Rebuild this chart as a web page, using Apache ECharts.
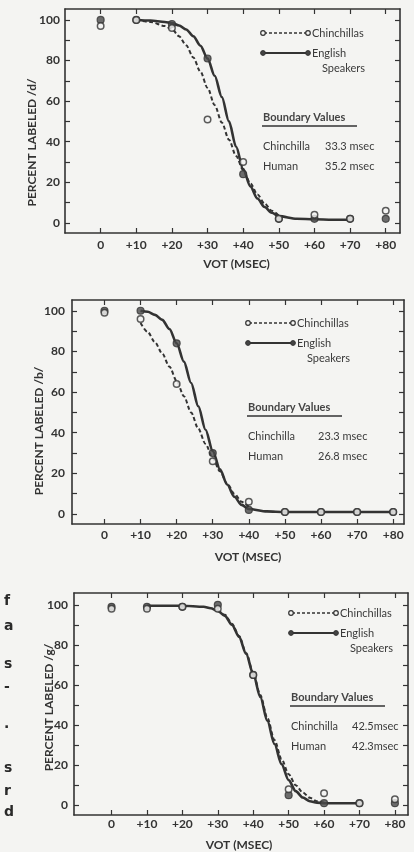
<!DOCTYPE html>
<html><head><meta charset="utf-8">
<script src="https://cdn.jsdelivr.net/npm/echarts@6/dist/echarts.min.js"></script>
<style>html,body{margin:0;padding:0;background:#f4f4f2}#c{width:414px;height:852px}</style>
</head><body><div id="c"></div>
<script>
// ---------- data ----------
const vot = [0, 10, 20, 30, 40, 50, 60, 70, 80];
const xTickValues = [0, 10, 20, 30, 40, 50, 60, 70, 80];
const xTickLabels = ['0', '+10', '+20', '+30', '+40', '+50', '+60', '+70', '+80'];
const yLabelValues = [0, 20, 40, 60, 80, 100];
const yTickValues = [0, 10, 20, 30, 40, 50, 60, 70, 80, 90, 100];
const consonants = ['/d/', '/b/', '/g/'];
const seriesNames = ['Chinchillas', 'English Speakers'];
const boundaryChin = ['33.3 msec', '23.3 msec', '42.5msec'];
const boundaryHum = ['35.2 msec', '26.8 msec', '42.3msec'];

// panel 1 /d/
const dChin = [97, 100, 96, 51, 30, 2, 4, 2, 6];
const dHum = [100, 100, 98, 81, 24, 2, 2, 2, 2];
const dChinCurveX = [10, 14, 18, 20, 22, 24, 26, 28, 30, 32, 34, 36, 38, 40, 42, 44, 46, 48, 50];
const dChinCurveY = [100, 99, 97, 95.5, 92, 87.5, 81.5, 74.5, 66.5, 58, 49.5, 41, 33, 26, 19.5, 14, 9.5, 6, 3.5];
const dHumCurveX = [10, 14, 18, 20, 22, 24, 26, 28, 30, 32, 34, 36, 38, 40, 42, 44, 46, 48, 50, 55, 60, 65, 70];
const dHumCurveY = [100, 99.7, 99, 98.5, 97.3, 95.3, 92, 87.3, 81, 72.5, 62, 50, 37.5, 26.5, 18, 12, 7.8, 5, 3.3, 2, 1.8, 1.5, 1.5];

// panel 2 /b/
const bChin = [99, 96, 64, 26, 6, 1, 1, 1, 1];
const bHum = [100, 100, 84, 30, 2, 1, 1, 1, 1];
const bChinCurveX = [10, 12, 14, 16, 18, 20, 22, 24, 26, 28, 30, 32, 34, 36, 38, 40];
const bChinCurveY = [94, 89.5, 84.5, 79, 72.5, 65.5, 58, 50, 42, 34.5, 27.5, 21, 15, 10, 6, 3.5];
const bHumCurveX = [10, 12, 14, 16, 18, 20, 22, 24, 26, 28, 30, 32, 34, 36, 38, 40, 45, 50, 55, 60, 65, 70, 75, 80];
const bHumCurveY = [100, 99.5, 98, 95.5, 91, 84, 75, 64.5, 53, 41.5, 31, 22, 14.5, 8.5, 4.5, 2.5, 1.3, 1, 1, 1, 1, 1, 1, 1];

// panel 3 /g/
const gChin = [98, 98, 99, 98, 65, 8, 6, 1, 3];
const gHum = [99, 99, 99, 100, 65, 5, 1, 1, 1];
const gChinCurveX = [30, 32, 34, 36, 38, 40, 42, 44, 46, 48, 50, 52, 54, 56, 58, 60];
const gChinCurveY = [97.5, 95, 90.5, 84.5, 76, 66, 55, 43.5, 32.5, 23, 15.5, 10, 6.3, 3.7, 2, 1.2];
const gHumCurveX = [10, 20, 26, 28, 30, 32, 34, 36, 38, 40, 42, 44, 46, 48, 50, 52, 54, 56, 58, 60, 65, 70];
const gHumCurveY = [99.5, 99.5, 99, 98.3, 97, 94.5, 90, 84, 75.5, 65.5, 54, 42, 30.5, 20.5, 12.5, 7, 3.8, 2, 1.3, 1, 1, 1];

const pointsChin = [dChin, bChin, gChin];
const pointsHum = [dHum, bHum, gHum];
const curvesChin = [[dChinCurveX, dChinCurveY], [bChinCurveX, bChinCurveY], [gChinCurveX, gChinCurveY]];
const curvesHum = [[dHumCurveX, dHumCurveY], [bHumCurveX, bHumCurveY], [gHumCurveX, gHumCurveY]];

// ---------- layout / style ----------
const INK = '#333';
const BG = '#f4f4f2';
const FONT = 'Lato, "DejaVu Sans", sans-serif';
const layout = [
  {grid: {left: 65, top: 9, width: 335, height: 224}, x: [-10, 84], y: [-5, 105.4], yGap: 27, yPad: [0, 43, 0, 0], yMargin: 5, xMargin: 6, xGap: 25, xPad: 8,
   leg: {x: 262, y: 33}, bx: 325},
  {grid: {left: 72, top: 300, width: 332, height: 224}, x: [-9, 83], y: [-4.9, 105.3], yGap: 27, yPad: [0, 38, 0, 0], yMargin: 7, xMargin: 5, xGap: 27, xPad: 20,
   leg: {x: 247, y: 323}, bx: 318},
  {grid: {left: 74, top: 593, width: 334, height: 226}, x: [-10.6, 83.7], y: [-4.9, 105.9], yGap: 19, yPad: [0, 7, 0, 0], yMargin: 6, xMargin: 3, xGap: 24, xPad: -4,
   leg: {x: 290, y: 613}, bx: 352}
];

const grids = [], xAxes = [], yAxes = [], series = [], graphic = [];
const zip = (a, b) => a.map((v, i) => [v, b[i]]);

layout.forEach((L, i) => {
  grids.push(L.grid);
  const axLine = {show: true, onZero: false, lineStyle: {color: INK, width: 1.6}};
  const tick = {show: true, inside: true, length: 5, lineStyle: {color: INK, width: 1.2}};
  xAxes.push({
    type: 'value', gridIndex: i, min: L.x[0], max: L.x[1], position: 'bottom',
    axisLine: axLine, splitLine: {show: false},
    axisTick: Object.assign({}, tick, {customValues: xTickValues}),
    axisLabel: {customValues: xTickValues, margin: L.xMargin, color: '#333', fontFamily: FONT, fontSize: 12, fontWeight: 'bold',
      formatter: v => xTickLabels[xTickValues.indexOf(v)]},
    name: 'VOT (MSEC)', nameLocation: 'middle', nameGap: L.xGap, nameMoveOverlap: false,
    nameTextStyle: {color: '#333', fontFamily: FONT, fontSize: 12, fontWeight: 'bold', padding: L.xPad > 0 ? [0, 0, 0, L.xPad] : [0, -L.xPad, 0, 0]}
  });
  xAxes.push({
    type: 'value', gridIndex: i, min: L.x[0], max: L.x[1], position: 'top',
    axisLine: axLine, splitLine: {show: false},
    axisTick: Object.assign({}, tick, {customValues: xTickValues}),
    axisLabel: {show: false}
  });
  yAxes.push({
    type: 'value', gridIndex: i, min: L.y[0], max: L.y[1], position: 'left',
    axisLine: axLine, splitLine: {show: false},
    axisTick: Object.assign({}, tick, {customValues: yTickValues}),
    axisLabel: {customValues: yLabelValues, margin: L.yMargin, color: '#333', fontFamily: FONT, fontSize: 12, fontWeight: 'bold'},
    name: 'PERCENT LABELED ' + consonants[i], nameLocation: 'middle', nameGap: L.yGap, nameRotate: 90, nameMoveOverlap: false,
    nameTextStyle: {color: '#333', fontFamily: FONT, fontSize: 12, fontWeight: 'bold', padding: L.yPad}
  });
  yAxes.push({
    type: 'value', gridIndex: i, min: L.y[0], max: L.y[1], position: 'right',
    axisLine: axLine, splitLine: {show: false},
    axisTick: Object.assign({}, tick, {customValues: yTickValues}),
    axisLabel: {show: false}
  });
  const xi = 2 * i, yi = 2 * i;
  series.push({
    type: 'line', name: seriesNames[0] + ' fit', xAxisIndex: xi, yAxisIndex: yi, showSymbol: false, symbol: 'none',
    smooth: 0.3, smoothMonotone: 'x', data: zip(curvesChin[i][0], curvesChin[i][1]),
    lineStyle: {color: INK, width: 2, type: [4, 2.5]}, silent: true, z: 2
  });
  series.push({
    type: 'line', name: seriesNames[1] + ' fit', xAxisIndex: xi, yAxisIndex: yi, showSymbol: false, symbol: 'none',
    smooth: 0.3, smoothMonotone: 'x', data: zip(curvesHum[i][0], curvesHum[i][1]),
    lineStyle: {color: INK, width: 2.6}, silent: true, z: 2
  });
  series.push({
    type: 'scatter', name: seriesNames[1], xAxisIndex: xi, yAxisIndex: yi, symbol: 'circle', symbolSize: 7,
    data: zip(vot, pointsHum[i]), itemStyle: {color: '#4a4a4a', borderColor: INK, borderWidth: 1.2}, z: 3
  });
  series.push({
    type: 'scatter', name: seriesNames[0], xAxisIndex: xi, yAxisIndex: yi, symbol: 'circle', symbolSize: 6.5,
    data: zip(vot, pointsChin[i]), itemStyle: {color: BG, borderColor: INK, borderWidth: 1.5}, z: 4
  });

  // legend & boundary values block
  const lx = L.leg.x, ly = L.leg.y, len = 46;
  const txt = (x, y, s, extra) => graphic.push({type: 'text', x: x, y: y, z: 10,
    style: Object.assign({text: s, fill: '#3a3a3a', font: '11px ' + FONT, textVerticalAlign: 'middle'}, extra || {})});
  graphic.push({type: 'line', z: 10, shape: {x1: lx + 2, y1: ly, x2: lx + len - 2, y2: ly}, style: {stroke: INK, lineWidth: 1.6, lineDash: [3, 2]}});
  graphic.push({type: 'circle', z: 11, shape: {cx: lx + 1, cy: ly, r: 2.3}, style: {fill: BG, stroke: INK, lineWidth: 1.2}});
  graphic.push({type: 'circle', z: 11, shape: {cx: lx + len, cy: ly, r: 2.3}, style: {fill: BG, stroke: INK, lineWidth: 1.2}});
  txt(lx + len + 4, ly, seriesNames[0]);
  const ly2 = ly + 20;
  graphic.push({type: 'line', z: 10, shape: {x1: lx + 1, y1: ly2, x2: lx + len, y2: ly2}, style: {stroke: INK, lineWidth: 2.2}});
  graphic.push({type: 'circle', z: 11, shape: {cx: lx + 1, cy: ly2, r: 2.4}, style: {fill: '#444', stroke: INK, lineWidth: 1}});
  graphic.push({type: 'circle', z: 11, shape: {cx: lx + len, cy: ly2, r: 2.4}, style: {fill: '#444', stroke: INK, lineWidth: 1}});
  txt(lx + len + 4, ly2, 'English');
  txt(lx + len + 57, ly2 + 15, 'Speakers', {textAlign: 'right'});
  const by = ly + 84;
  txt(lx + 1, by, 'Boundary Values', {font: 'bold 11px ' + FONT, fill: '#444'});
  graphic.push({type: 'line', z: 10, shape: {x1: lx, y1: by + 9, x2: lx + 95, y2: by + 9}, style: {stroke: INK, lineWidth: 1.4}});
  txt(lx + 1, by + 29, 'Chinchilla');
  txt(L.bx, by + 29, boundaryChin[i]);
  txt(lx + 1, by + 49, 'Human');
  txt(L.bx, by + 49, boundaryHum[i]);
});

// line-end letters of the neighbouring page text
const edgeLetters = ['f', 'a', 's', '-', '.', 's', 'r', 'd'];
const edgeY = [601, 626, 664, 687, 724, 768, 791, 812];
edgeLetters.forEach((c, k) => graphic.push({type: 'text', x: 4, y: edgeY[k], z: 10,
  style: {text: c, fill: '#2a2a2a', font: 'bold 14px "DejaVu Sans", sans-serif', textVerticalAlign: 'middle'}}));

const chart = echarts.init(document.getElementById('c'), null, {renderer: 'canvas'});
chart.setOption({
  backgroundColor: BG,
  animation: false,
  grid: grids, xAxis: xAxes, yAxis: yAxes, series: series, graphic: graphic
});
</script></body></html>
